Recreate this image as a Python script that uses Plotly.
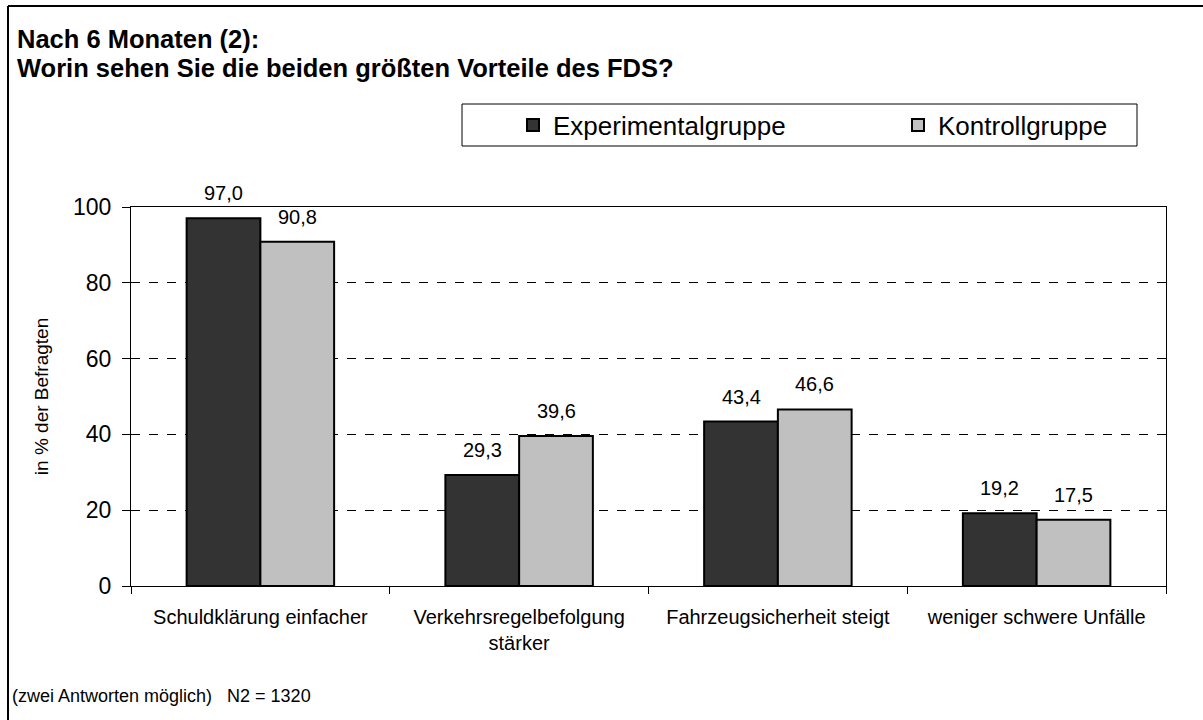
import plotly.graph_objects as go

categories = ["Schuldklärung einfacher", "Verkehrsregelbefolgung<br>stärker",
              "Fahrzeugsicherheit steigt", "weniger schwere Unfälle"]
experimental = [97.0, 29.3, 43.4, 19.2]
kontroll = [90.8, 39.6, 46.6, 17.5]
series_names = ["Experimentalgruppe", "Kontrollgruppe"]
series_colors = ["#333333", "#C0C0C0"]
y_ticks = [0, 20, 40, 60, 80, 100]

FONT = "Arial, Liberation Sans, sans-serif"

W, H = 1203, 720
L, R, T, B = 131, 1166, 207, 586  # plot area in page pixels
BARGAP = 0.43


def px(x):
    return (x - L) / (R - L)


def py(y):
    return (B - y) / (B - T)


fig = go.Figure()
legend_ids = ["legend", "legend2"]
for name, vals, col, lg in zip(series_names, [experimental, kontroll], series_colors, legend_ids):
    fig.add_trace(go.Bar(
        x=categories, y=vals, name=name, legend=lg,
        marker=dict(color=col, line=dict(color="black", width=2)),
    ))

# value labels above bars
bar_px = (R - L) / len(categories) * (1 - BARGAP) / 2
for k, vals in enumerate([experimental, kontroll]):
    shift = (-0.5 + k) * bar_px
    for c, v in zip(categories, vals):
        fig.add_annotation(x=c, y=v, xref="x", yref="y", text=f"{v:.1f}".replace(".", ","),
                           showarrow=False, xshift=shift, yshift=12, yanchor="bottom",
                           font=dict(size=20, family=FONT, color="black"))

leg_common = dict(orientation="h", yanchor="middle", xanchor="left",
                  font=dict(size=26, family=FONT, color="black"),
                  bgcolor="rgba(0,0,0,0)", itemwidth=30)

fig.update_layout(
    width=W, height=H,
    margin=dict(l=L, r=W - R, t=T, b=H - B),
    paper_bgcolor="white", plot_bgcolor="white",
    separators=",.",
    barmode="group", bargap=BARGAP, bargroupgap=0,
    font=dict(family=FONT, color="black"),
    showlegend=True,
    legend=dict(x=px(513), y=py(125), **leg_common),
    legend2=dict(x=px(898), y=py(125), **leg_common),
    xaxis=dict(showline=True, linecolor="black", linewidth=1, mirror=True,
               ticks="outside", tickson="boundaries", ticklen=7, tickcolor="black",
               tickfont=dict(size=20, family=FONT), showgrid=False,
               ticklabelstandoff=13, automargin=False),
    yaxis=dict(range=[0, 100], tickvals=y_ticks, showline=True, linecolor="black",
               linewidth=1, mirror=True, ticks="outside", ticklen=8, tickcolor="black",
               tickfont=dict(size=23, family=FONT), ticklabelstandoff=6,
               showgrid=True, gridcolor="black", griddash="dash", gridwidth=1,
               automargin=False,
               title=dict(text="in % der Befragten", font=dict(size=19, family=FONT),
                          standoff=19)),
)

# Title
fig.add_annotation(text="<b>Nach 6 Monaten (2):</b>", xref="paper", yref="paper",
                   x=px(15), y=py(39), xanchor="left", yanchor="middle",
                   showarrow=False, font=dict(size=25.5, family=FONT))
fig.add_annotation(text="<b>Worin sehen Sie die beiden größten Vorteile des FDS?</b>",
                   xref="paper", yref="paper",
                   x=px(15), y=py(68), xanchor="left", yanchor="middle",
                   showarrow=False, font=dict(size=25.5, family=FONT))
# Footer
fig.add_annotation(text="(zwei Antworten möglich)   N2 = 1320", xref="paper", yref="paper",
                   x=px(10), y=py(696), xanchor="left", yanchor="middle",
                   showarrow=False, font=dict(size=18, family=FONT))

# Legend box
fig.add_shape(type="rect", xref="paper", yref="paper",
              x0=px(462), x1=px(1137), y0=py(104), y1=py(146),
              line=dict(color="black", width=1), fillcolor="rgba(0,0,0,0)")
# Outer chart border (left and top)
fig.add_shape(type="line", xref="paper", yref="paper",
              x0=px(8), x1=px(8), y0=py(6), y1=py(720), line=dict(color="black", width=2))
fig.add_shape(type="line", xref="paper", yref="paper",
              x0=px(8), x1=px(1203), y0=py(6), y1=py(6), line=dict(color="black", width=2))

fig.write_html("out.html",
               config={"displayModeBar": False},
               post_script="document.body.style.margin='0';document.body.style.overflow='hidden';"
                           "document.documentElement.style.overflow='hidden';")
